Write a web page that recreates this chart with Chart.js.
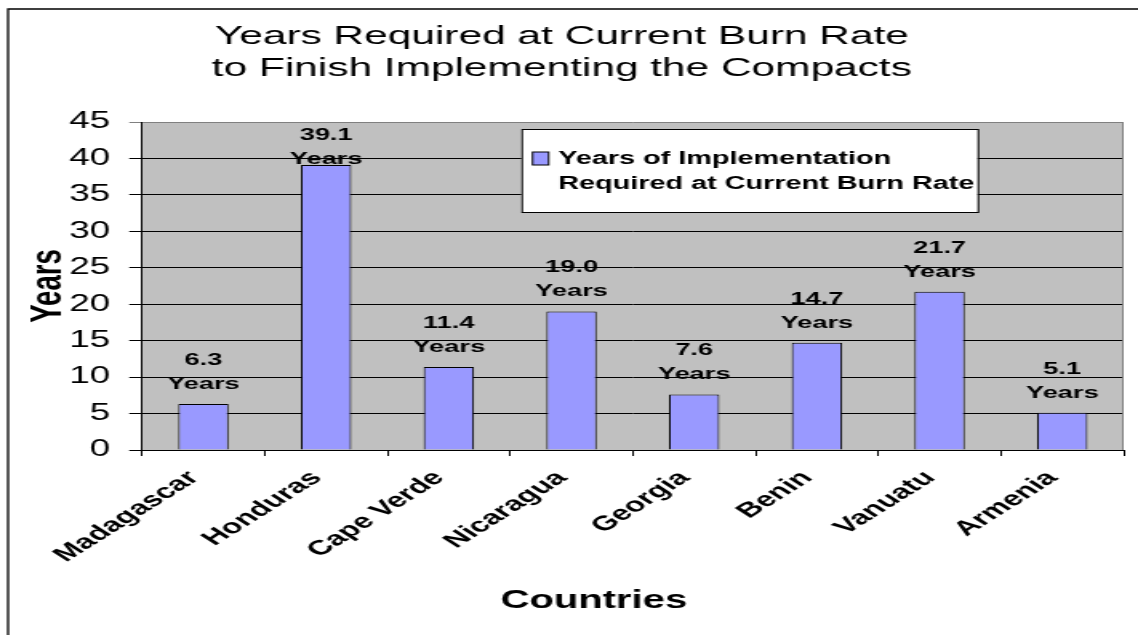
<!DOCTYPE html>
<html>
<head>
<meta charset="utf-8">
<script src="https://cdn.jsdelivr.net/npm/chart.js@4.4.0/dist/chart.umd.min.js"></script>
<style>
html, body { margin: 0; padding: 0; background: #fff; overflow: hidden; }
/* the reference is stretched sideways, so the chart is drawn narrow and widened */
#wrap { width: 711px; height: 635px; transform: scaleX(1.6006); transform-origin: 0 0; }
</style>
</head>
<body>
<div id="wrap"><canvas id="myChart" width="711" height="635"></canvas></div>
<script>
var countries = ["Madagascar", "Honduras", "Cape Verde", "Nicaragua", "Georgia", "Benin", "Vanuatu", "Armenia"];
var yearsNeeded = [6.3, 39.1, 11.4, 19.0, 7.6, 14.7, 21.7, 5.1];
var yTicks = [0, 5, 10, 15, 20, 25, 30, 35, 40, 45];
var titleLines = ["Years Required at Current Burn Rate", "to Finish Implementing the Compacts"];
var legendLines = ["Years of Implementation", "Required at Current Burn Rate"];
var xTitle = "Countries";
var unitText = "Years";

var fontName = '"Liberation Sans", Arial, sans-serif';

var backgroundPlugin = {
    id: "bg",
    beforeDraw: function(chart) {
        var c = chart.ctx, a = chart.chartArea;
        c.save();
        c.fillStyle = "#fff";
        c.fillRect(0, 0, chart.width, chart.height);
        c.fillStyle = "#c0c0c0";
        c.fillRect(a.left, a.top, a.right - a.left, a.bottom - a.top);
        // outer frame (left and top edges only are visible)
        c.strokeStyle = "#000";
        c.lineWidth = 1.3;
        c.beginPath();
        c.moveTo(5, chart.height + 2);
        c.lineTo(5, 9);
        c.lineTo(chart.width + 2, 9);
        c.stroke();
        c.restore();
    },
    afterDatasetsDraw: function(chart) {
        var c = chart.ctx, a = chart.chartArea;
        c.save();
        // right border of plot
        c.strokeStyle = "#808080";
        c.lineWidth = 1;
        c.beginPath();
        c.moveTo(a.right - 0.5, a.top);
        c.lineTo(a.right - 0.5, a.bottom);
        c.stroke();

        // value labels
        var meta = chart.getDatasetMeta(0);
        c.fillStyle = "#000";
        c.font = "bold 17px " + fontName;
        c.textAlign = "center";
        c.textBaseline = "middle";
        meta.data.forEach(function(bar, i) {
            var v = chart.data.datasets[0].data[i];
            var numY = Math.max(bar.y - 44, a.top + 13);
            c.fillText(v.toFixed(1), bar.x, numY);
            c.fillText(unitText, bar.x, numY + 24);
        });

        // legend box
        var bx = a.left + 237, by = a.top + 7, bw = 285, bh = 83;
        c.fillStyle = "#fff";
        c.fillRect(bx, by, bw, bh);
        c.strokeStyle = "#000";
        c.lineWidth = 1;
        c.strokeRect(bx + 0.5, by + 0.5, bw, bh);
        c.fillStyle = chart.data.datasets[0].backgroundColor;
        c.fillRect(bx + 7, by + 23, 10, 13);
        c.strokeRect(bx + 7, by + 23, 10, 13);
        c.fillStyle = "#000";
        c.font = "bold 18px " + fontName;
        c.textAlign = "left";
        c.textBaseline = "middle";
        legendLines.forEach(function(t, k) {
            c.fillText(t, bx + 23, by + 30 + k * 25);
        });

        // x axis title, centred on the figure rather than on the plot
        c.font = "bold 25px " + fontName;
        c.textAlign = "center";
        c.fillText(xTitle, 371, 601);
        c.restore();
    }
};

var ctx = document.getElementById("myChart");

var data = {
    labels: countries,
    datasets: [
        {
            label: legendLines.join(" "),
            data: yearsNeeded,
            backgroundColor: "#9999ff",
            borderColor: "#000",
            borderWidth: 1,
            categoryPercentage: 1.0,
            barPercentage: 0.41
        }
    ]
};

var options = {
    responsive: false,
    animation: false,
    devicePixelRatio: 1,
    layout: { padding: { top: 0, left: 0, right: 9, bottom: 0 } },
    plugins: {
        legend: { display: false },
        tooltip: { enabled: false },
        title: {
            display: true,
            text: titleLines,
            color: "#000",
            font: { family: fontName, size: 26.5, weight: "normal", lineHeight: 32 / 26.5 },
            padding: { top: 21, bottom: 37 }
        }
    },
    scales: {
        x: {
            afterFit: function(s) { s.height = 185; },
            grid: { display: true, drawOnChartArea: false, drawTicks: true, tickLength: 6, color: "#000", offset: true },
            border: { color: "#000", width: 1 },
            ticks: {
                autoSkip: false,
                maxRotation: 45,
                minRotation: 45,
                padding: 10,
                labelOffset: -6,
                color: "#000",
                font: { family: fontName, size: 20.5, weight: "bold" }
            }
        },
        y: {
            min: yTicks[0],
            max: yTicks[yTicks.length - 1],
            afterFit: function(s) { s.width = 88.75; },
            afterBuildTicks: function(s) { s.ticks = yTicks.map(function(v) { return { value: v }; }); },
            grid: {
                color: function(c) { return c.tick && c.tick.value === 45 ? "#808080" : "#000"; },
                tickLength: 8,
                lineWidth: 1
            },
            border: { color: "#000", width: 1 },
            ticks: {
                padding: 12,
                color: "#000",
                font: { family: fontName, size: 23 }
            },
            title: {
                display: true,
                text: "Years",
                color: "#000",
                font: { family: fontName, size: 27.5, weight: "bold" },
                padding: { top: 14, bottom: 0 }
            }
        }
    }
};

var barChart = new Chart(ctx, {
    type: "bar",
    data: data,
    options: options,
    plugins: [backgroundPlugin]
});
</script>
</body>
</html>
